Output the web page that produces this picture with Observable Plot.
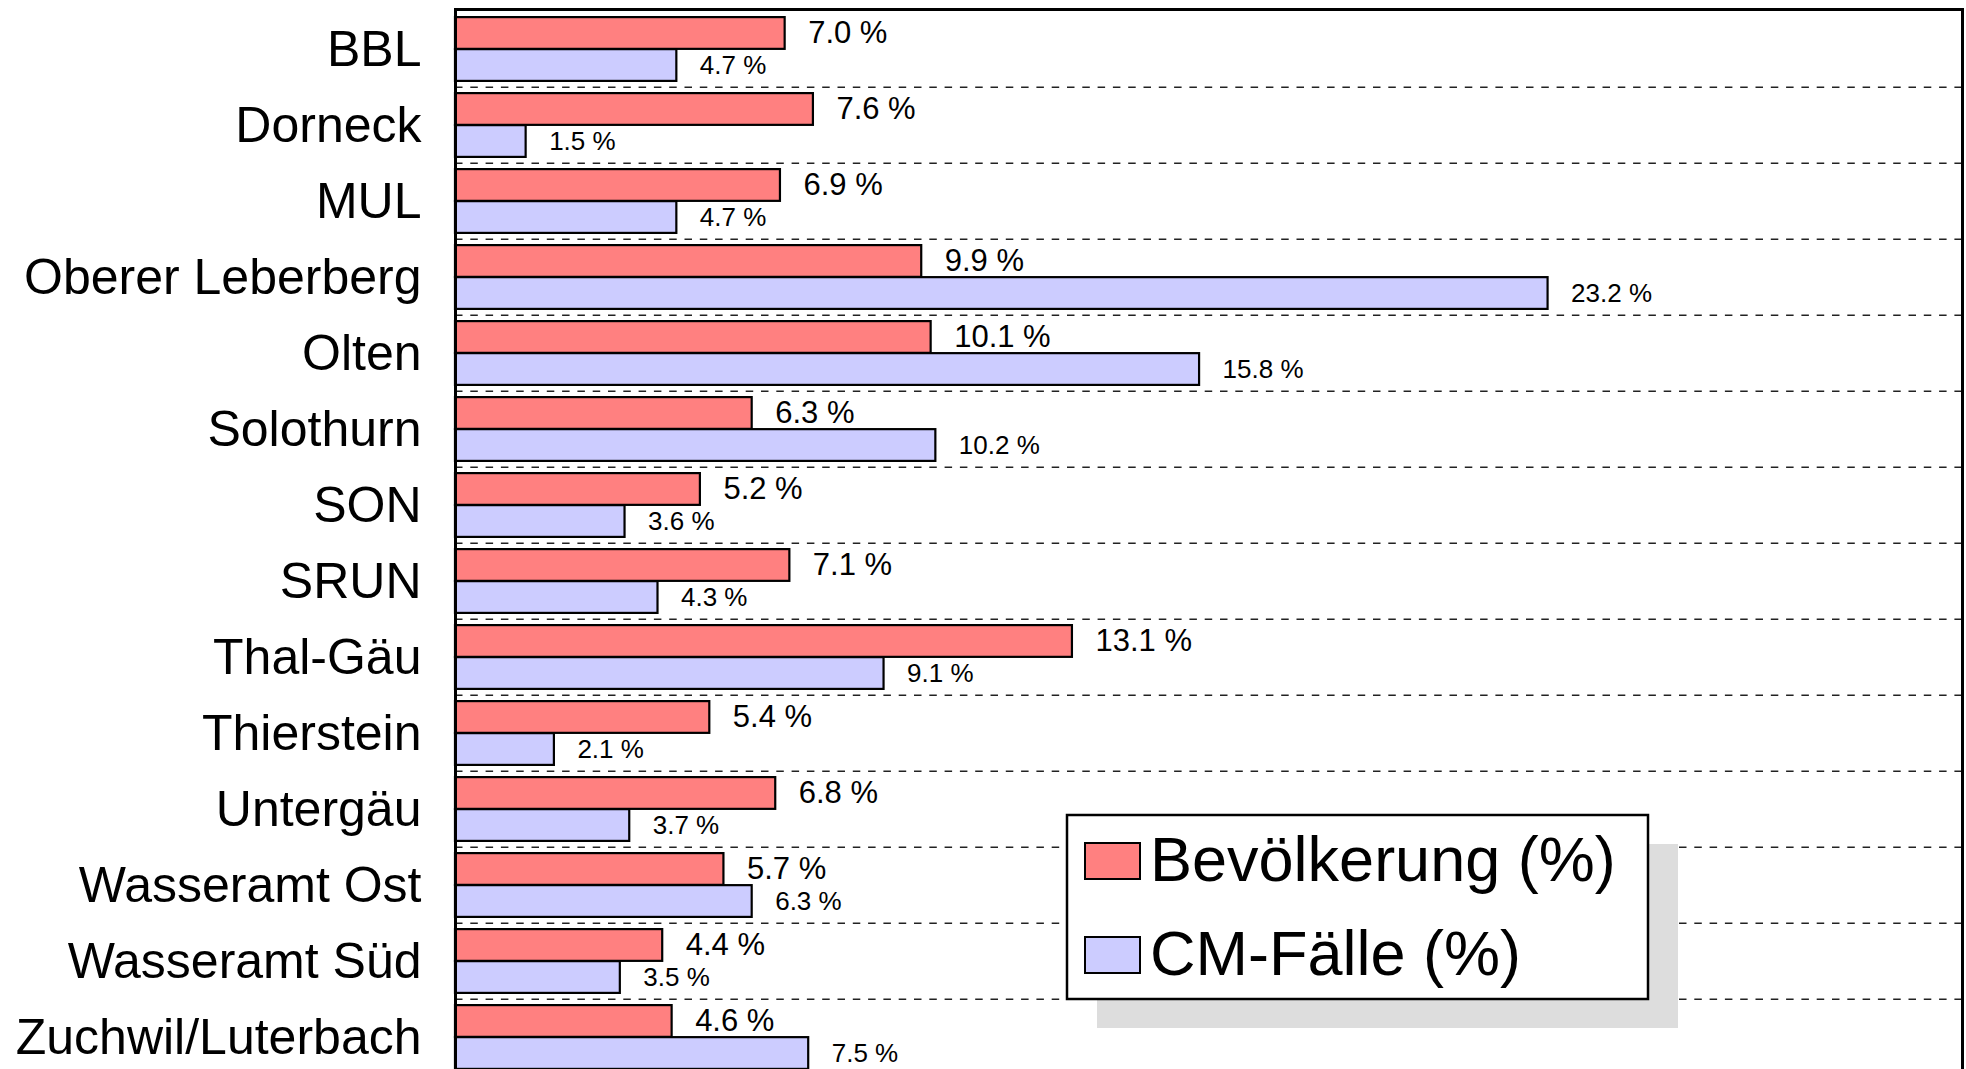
<!DOCTYPE html>
<html>
<head>
<meta charset="utf-8">
<script src="https://cdn.jsdelivr.net/npm/d3@7"></script>
<script src="https://cdn.jsdelivr.net/npm/@observablehq/plot@0.6"></script>
<style>
  html, body { margin: 0; padding: 0; background: #fff; overflow: hidden; }
  #chart { position: relative; width: 1966px; height: 1069px; overflow: hidden; }
  #chart svg { overflow: hidden; }
</style>
</head>
<body>
<div id="chart"></div>
<script>
const categories = ["BBL", "Dorneck", "MUL", "Oberer Leberberg", "Olten", "Solothurn", "SON", "SRUN", "Thal-Gäu", "Thierstein", "Untergäu", "Wasseramt Ost", "Wasseramt Süd", "Zuchwil/Luterbach"];
const bevoelkerung = [7.0, 7.6, 6.9, 9.9, 10.1, 6.3, 5.2, 7.1, 13.1, 5.4, 6.8, 5.7, 4.4, 4.6];
const cmFaelle = [4.7, 1.5, 4.7, 23.2, 15.8, 10.2, 3.6, 4.3, 9.1, 2.1, 3.7, 6.3, 3.5, 7.5];
const seriesNames = ["Bevölkerung (%)", "CM-Fälle (%)"];
const seriesColors = ["#FF8080", "#CCCCFF"];

const data = categories.map((c, i) => ({cat: c, bev: bevoelkerung[i], cm: cmFaelle[i]}));

const W = 1966, H = 1069;
const mTop = 9, mBottom = -8, mLeft = 455, mRight = 4;
const step = (H - mBottom - mTop) / categories.length;
const font = "'Liberation Sans', Arial, Helvetica, sans-serif";
const fmt = v => v.toFixed(1) + " %";

const plot = Plot.plot({
  width: W,
  height: H,
  marginTop: mTop,
  marginBottom: mBottom,
  marginLeft: mLeft,
  marginRight: mRight,
  style: {fontFamily: font, background: "white", color: "black"},
  x: {domain: [0, 32], axis: null},
  y: {domain: categories, padding: 0, axis: null},
  marks: [
    Plot.ruleY(categories.slice(1), {y: d => d, dy: -step / 2, stroke: "#222", strokeWidth: 1.5, strokeDasharray: "7.5,7.8"}),
    Plot.barX(data, {y: "cat", x: "bev", fill: seriesColors[0], stroke: "black", strokeWidth: 2.2,
      insetTop: 0.08 * step, insetBottom: 0.5 * step}),
    Plot.barX(data, {y: "cat", x: "cm", fill: seriesColors[1], stroke: "black", strokeWidth: 2.2,
      insetTop: 0.5 * step, insetBottom: 0.08 * step}),
    Plot.text(data, {y: "cat", x: "bev", text: d => fmt(d.bev), textAnchor: "start", dx: 23, dy: -0.21 * step,
      fontSize: 31, fill: "black"}),
    Plot.text(data, {y: "cat", x: "cm", text: d => fmt(d.cm), textAnchor: "start", dx: 23, dy: 0.21 * step,
      fontSize: 26, fill: "black"}),
    Plot.axisY({tickSize: 0, tickPadding: 34, fontSize: 50, label: null, fill: "black"}),
    Plot.frame({stroke: "black", strokeWidth: 3})
  ]
});

document.getElementById("chart").appendChild(plot);

// Legend box (inside plot area, with drop shadow)
const svg = d3.select(plot);
const lg = svg.append("g").attr("font-family", font).attr("text-anchor", "start");
const box = {x: 1067, y: 815, w: 581, h: 184};
lg.append("rect").attr("x", box.x + 30).attr("y", box.y + 29).attr("width", box.w).attr("height", box.h).attr("fill", "#DDDDDD");
lg.append("rect").attr("x", box.x).attr("y", box.y).attr("width", box.w).attr("height", box.h)
  .attr("fill", "white").attr("stroke", "black").attr("stroke-width", 2.5);
const baselines = [881, 975];
seriesNames.forEach((name, i) => {
  lg.append("rect").attr("x", 1085).attr("y", baselines[i] - 38).attr("width", 55).attr("height", 36)
    .attr("fill", seriesColors[i]).attr("stroke", "black").attr("stroke-width", 2);
  lg.append("text").attr("x", 1150).attr("y", baselines[i]).attr("font-size", 63)
    .attr("text-anchor", "start").attr("fill", "black").text(name);
});
</script>
</body>
</html>
